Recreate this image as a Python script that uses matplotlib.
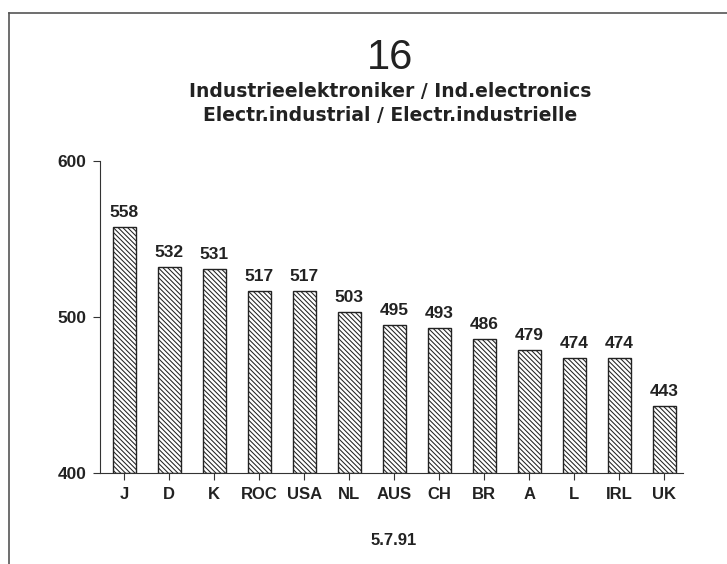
import numpy as np
from matplotlib import pyplot as plt
from matplotlib.lines import Line2D

# Dados do gráfico
countries = ['J', 'D', 'K', 'ROC', 'USA', 'NL', 'AUS', 'CH', 'BR', 'A', 'L', 'IRL', 'UK']
scores = [558, 532, 531, 517, 517, 503, 495, 493, 486, 479, 474, 474, 443]
y_ticks = [400, 500, 600]

plt.rcParams['font.family'] = ['Liberation Sans', 'DejaVu Sans']
plt.rcParams['hatch.linewidth'] = 0.75

ink = '#222222'

fig = plt.figure(figsize = (7.27, 5.64), dpi = 100)
ax = fig.add_axes([0.1376, 0.1613, 0.802, 0.5532])

x = np.arange(len(countries))
ax.bar(x, np.array(scores) - 400, bottom = 400, width = 0.51,
       color = 'white', edgecolor = ink, linewidth = 1.0,
       hatch = '\\' * 7)

# Valores acima das barras
for xi, v in zip(x, scores):
    ax.annotate(str(v), (xi, v), xytext = (0, 5), textcoords = 'offset points',
                ha = 'center', va = 'bottom', fontsize = 12.5, fontweight = 'bold',
                color = ink)

ax.set_xlim(-0.533, 12.42)
ax.set_ylim(400, 600)
ax.set_xticks(x)
ax.set_xticklabels(countries, fontsize = 12, fontweight = 'bold', color = ink)
ax.set_yticks(y_ticks)
ax.set_yticklabels([str(v) for v in y_ticks], fontsize = 12.5, fontweight = 'bold', color = ink)
ax.tick_params(axis = 'x', length = 5, pad = 5, color = '#333333')
ax.tick_params(axis = 'y', length = 5, pad = 5, color = '#333333')

ax.spines['top'].set_visible(False)
ax.spines['right'].set_visible(False)
ax.spines['left'].set_color('#333333')
ax.spines['bottom'].set_color('#333333')

# Títulos
fig.text(0.537, 0.897, '16', ha = 'center', va = 'center', fontsize = 30, color = ink)
fig.text(0.537, 0.837, 'Industrieelektroniker / Ind.electronics', ha = 'center', va = 'center',
         fontsize = 13.5, fontweight = 'bold', color = ink, family = 'DejaVu Sans')
fig.text(0.537, 0.796, 'Electr.industrial / Electr.industrielle', ha = 'center', va = 'center',
         fontsize = 13.5, fontweight = 'bold', color = ink, family = 'DejaVu Sans')
fig.text(0.542, 0.041, '5.7.91', ha = 'center', va = 'center', fontsize = 12,
         fontweight = 'bold', color = ink)

# Moldura
fig.add_artist(Line2D([9 / 727, 9 / 727], [0, 1 - 13 / 564], transform = fig.transFigure,
                      color = '#555555', linewidth = 1.2))
fig.add_artist(Line2D([9 / 727, 1], [1 - 13 / 564, 1 - 13 / 564], transform = fig.transFigure,
                      color = '#555555', linewidth = 1.2))

fig.savefig('out.png', dpi = 100, facecolor = 'white')
